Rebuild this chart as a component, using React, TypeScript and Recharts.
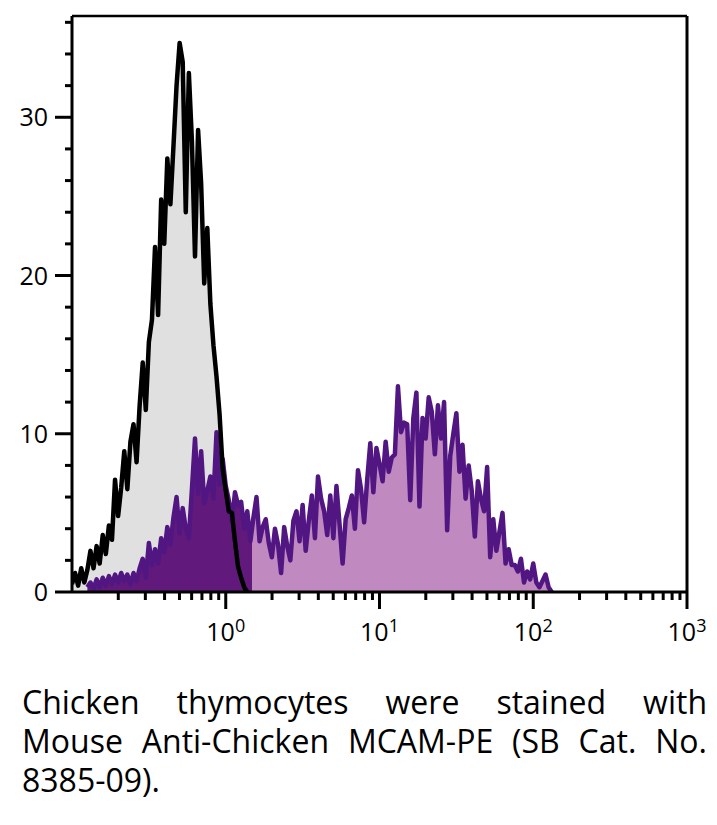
import React from 'react';
import { ComposedChart, Area, XAxis, YAxis, ReferenceLine } from 'recharts';

// channel grid (log10 of fluorescence)
const BIN_START = -1;
const BIN_STEP = 0.02;

// isotype control histogram (black outline, grey fill)
const CONTROL_COUNTS = [
  0.5, 1.2, 0.4, 1.5, 0.6, 1.4, 2.6, 1.5, 2.9, 1.8,
  3.6, 2.4, 4.2, 3.3, 7.1, 4.8, 6.6, 8.9, 6.5, 9.5,
  10.6, 8.2, 11.8, 14.5, 11.5, 15.8, 17.2, 21.8, 17.5, 24.8,
  22.0, 27.4, 24.5, 28.2, 32.0, 34.7, 33.5, 24.0, 32.8, 28.5,
  21.2, 29.2, 25.8, 19.5, 23.0, 18.2, 15.6, 13.6, 11.2, 7.8,
  6.4, 5.1, 5.0, 3.2, 1.6, 0.9, 0.3, 0,
];

// MCAM-PE stained histogram (purple)
const STAINED_START_BIN = 5;
const STAINED_COUNTS = [
  0.3, 0.6, 0.2, 0.8, 0.3, 0.9, 0.4, 1.0, 0.5, 1.1,
  0.6, 1.2, 0.7, 1.1, 0.5, 1.2, 0.7, 1.5, 2.1, 0.9,
  3.1, 1.7, 2.7, 1.8, 3.4, 2.5, 4.1, 3.0, 4.7, 6.0,
  3.7, 5.3, 4.0, 3.4, 6.5, 9.7, 6.2, 8.9, 5.6, 6.4,
  7.3, 5.9, 10.1, 6.8, 8.4, 6.7, 5.8, 4.4, 6.3, 5.5,
  5.7, 4.0, 5.1, 3.2, 4.7, 6.0, 3.2, 4.1, 4.6, 3.1,
  2.2, 4.0, 3.0, 1.2, 4.1, 2.9, 2.0, 4.5, 5.1, 3.2,
  5.5, 2.6, 4.5, 6.1, 3.4, 7.3, 5.9, 5.1, 3.6, 6.1,
  3.4, 6.7, 4.3, 1.8, 4.6, 5.3, 6.1, 4.0, 7.7, 6.5,
  4.4, 7.1, 9.4, 6.3, 9.1, 8.1, 7.0, 9.5, 7.6, 8.5,
  8.7, 13.0, 10.1, 10.7, 10.6, 5.8, 11.0, 12.6, 5.4, 11.0,
  9.7, 12.3, 11.4, 8.7, 11.8, 9.7, 12.0, 3.9, 8.6, 10.0,
  11.3, 7.6, 9.3, 5.9, 8.0, 6.4, 3.5, 7.0, 5.9, 5.1,
  7.9, 2.2, 4.6, 2.6, 3.8, 5.0, 1.8, 2.7, 1.7, 1.7,
  1.3, 2.1, 0.6, 1.3, 0.8, 1.8, 0.6, 0.3, 0.7, 1.1,
  0.3, 0,
];

const Y_MAX = 36.4;
const Y_TICKS = [0, 2, 4, 6, 8, 10, 12, 14, 16, 18, 20, 22, 24, 26, 28, 30, 32, 34, 36];
const Y_LABELS = [0, 10, 20, 30];
const X_MIN = -1;
const X_MAX = 3;
const X_MAJOR = [0, 1, 2, 3];
const X_DECADES = [-1, 0, 1, 2];
const X_MINOR_MULT = [2, 3, 4, 5, 6, 7, 8, 9];
const DARK_FILL_END_LOG = 0.17;

const CAPTION_LINES = [
  'Chicken thymocytes were stained with',
  'Mouse Anti-Chicken MCAM-PE (SB Cat. No.',
  '8385-09).',
];

const FONT = '"Open Sans", "Noto Sans", sans-serif';

const nBins = Math.max(CONTROL_COUNTS.length, STAINED_START_BIN + STAINED_COUNTS.length);
const data = Array.from({ length: nBins }, (_, i) => {
  const s = i - STAINED_START_BIN;
  return {
    x: BIN_START + i * BIN_STEP,
    control: i < CONTROL_COUNTS.length ? CONTROL_COUNTS[i] : null,
    stained: s >= 0 && s < STAINED_COUNTS.length ? STAINED_COUNTS[s] : null,
  };
});

const stainedFirstX = BIN_START + STAINED_START_BIN * BIN_STEP;
const stainedLastX = BIN_START + (STAINED_START_BIN + STAINED_COUNTS.length - 1) * BIN_STEP;
const darkOffset = (DARK_FILL_END_LOG - stainedFirstX) / (stainedLastX - stainedFirstX);

const X_TICKS = [
  ...X_DECADES.flatMap((d) => X_MINOR_MULT.map((m) => d + Math.log10(m))),
  ...X_MAJOR,
].sort((a, b) => a - b);

const XTick = (props: any) => {
  const { x, y, payload } = props;
  const v = payload.value;
  const major = X_MAJOR.includes(v);
  return (
    <g>
      <line x1={x} x2={x} y1={y} y2={y + (major ? 17 : 8)} stroke="#000" strokeWidth={3} />
      {major && (
        <text x={x} y={y + 49} textAnchor="middle" fontFamily={FONT} fontSize={25} fill="#000">
          <tspan>10</tspan>
          <tspan dy={-9} fontSize={18}>{String(v)}</tspan>
        </text>
      )}
    </g>
  );
};

const YTick = (props: any) => {
  const { x, y, payload } = props;
  const v = payload.value;
  const major = Y_LABELS.includes(v);
  return (
    <g>
      <line x1={x - (major ? 17 : 7)} x2={x} y1={y} y2={y} stroke="#000" strokeWidth={3} />
      {major && (
        <text x={x - 24} y={y + 9} textAnchor="end" fontFamily={FONT} fontSize={25} fill="#000">
          {String(v)}
        </text>
      )}
    </g>
  );
};

export default function App() {
  return (
    <div style={{ position: 'relative', width: 701, height: 809 }}>
      <ComposedChart
        width={701}
        height={644}
        data={data}
        margin={{ top: 8, right: 22, bottom: 0, left: 0 }}
      >
        <defs>
          <linearGradient id="stainedFill" x1="0" y1="0" x2="1" y2="0">
            <stop offset={0} stopColor="#611a7c" />
            <stop offset={darkOffset} stopColor="#611a7c" />
            <stop offset={darkOffset} stopColor="#c089c0" />
            <stop offset={1} stopColor="#c089c0" />
          </linearGradient>
        </defs>
        <XAxis
          dataKey="x"
          type="number"
          domain={[X_MIN, X_MAX]}
          ticks={X_TICKS}
          interval={0}
          allowDataOverflow
          height={60}
          tickSize={0}
          tickMargin={0}
          tickLine={false}
          axisLine={{ stroke: '#000', strokeWidth: 3 }}
          tick={<XTick />}
        />
        <YAxis
          type="number"
          domain={[0, Y_MAX]}
          ticks={Y_TICKS}
          interval={0}
          allowDataOverflow
          width={64}
          tickSize={0}
          tickMargin={0}
          tickLine={false}
          axisLine={{ stroke: '#000', strokeWidth: 3 }}
          tick={<YTick />}
        />
        <Area
          type="linear"
          dataKey="control"
          stroke="none"
          fill="#e0e0e0"
          fillOpacity={1}
          isAnimationActive={false}
          dot={false}
          activeDot={false}
        />
        <Area
          type="linear"
          dataKey="stained"
          stroke="#521683"
          strokeWidth={4.5}
          strokeLinejoin="round"
          fill="url(#stainedFill)"
          fillOpacity={1}
          isAnimationActive={false}
          dot={false}
          activeDot={false}
        />
        <Area
          type="linear"
          dataKey="control"
          stroke="#000"
          strokeWidth={4.5}
          strokeLinejoin="round"
          fill="none"
          isAnimationActive={false}
          dot={false}
          activeDot={false}
        />
        <ReferenceLine y={Y_MAX} stroke="#000" strokeWidth={2.5} />
        <ReferenceLine x={X_MAX} stroke="#000" strokeWidth={3} />
      </ComposedChart>
      <div
        style={{
          position: 'absolute',
          left: 14,
          top: 674,
          width: 685,
          fontFamily: FONT,
          fontSize: 32,
          lineHeight: '39px',
          color: '#000',
        }}
      >
        {CAPTION_LINES.map((line, i) => (
          <div
            key={i}
            style={{
              textAlign: i < CAPTION_LINES.length - 1 ? 'justify' : 'left',
              textAlignLast: i < CAPTION_LINES.length - 1 ? 'justify' : 'left',
              whiteSpace: 'nowrap',
            }}
          >
            {line}
          </div>
        ))}
      </div>
    </div>
  );
}
